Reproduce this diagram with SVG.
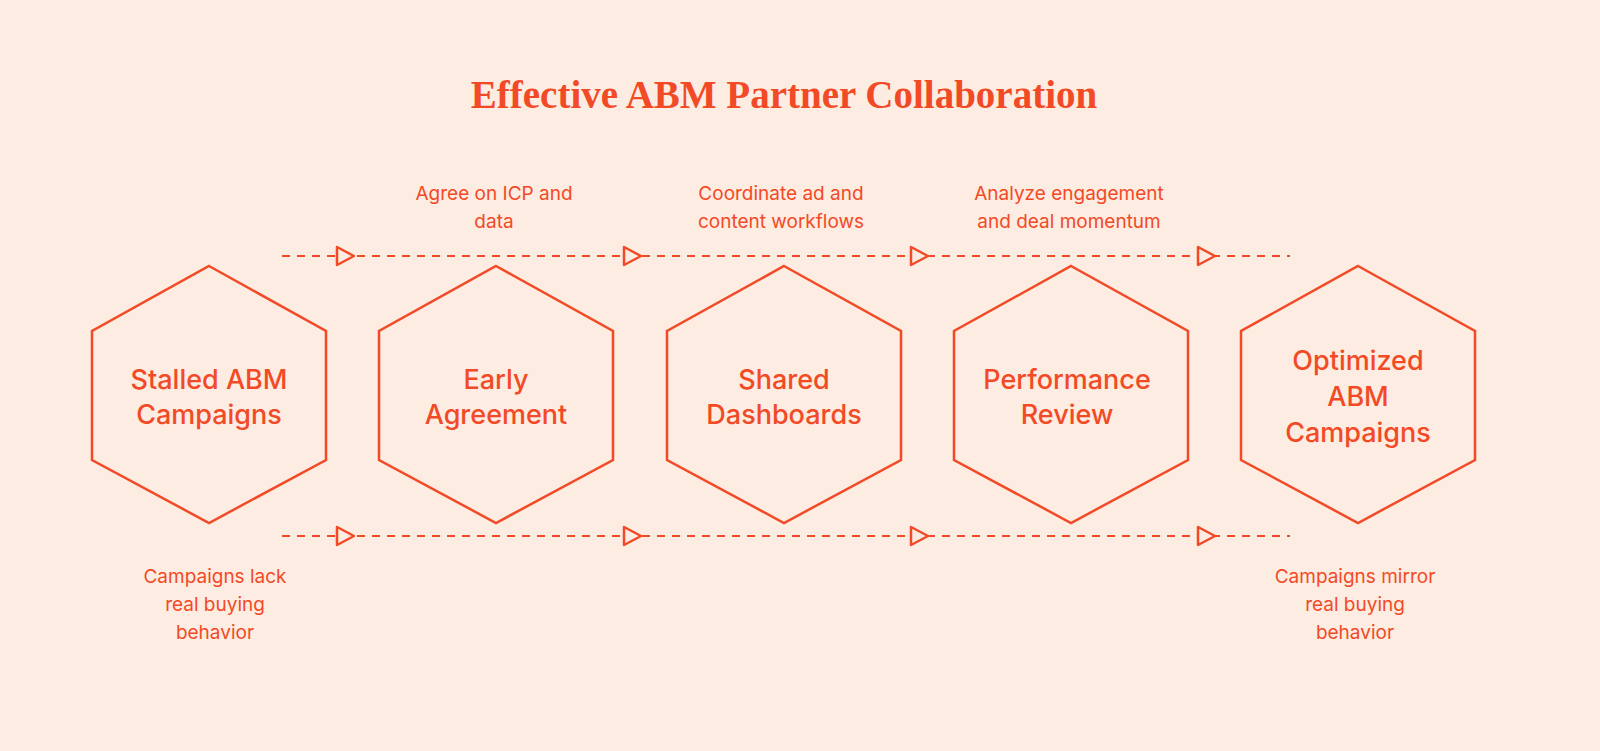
<svg xmlns="http://www.w3.org/2000/svg" width="1600" height="751" viewBox="0 0 1600 751">
<defs>
<style>
.hex{fill:none;stroke:#f24a26;stroke-width:2.5}
.n{font-family:Inter,"Liberation Sans",sans-serif;font-size:27px;font-weight:500;fill:#f24a26;text-anchor:middle}
.s{font-family:Inter,"Liberation Sans",sans-serif;font-size:19px;fill:#f24a26;text-anchor:middle}
.d{stroke:#f24a26;stroke-width:2;stroke-dasharray:8 7;fill:none}
.a{fill:#fdece1;stroke:#f24a26;stroke-width:2.5;stroke-linejoin:round}
</style>
<polygon id="hx" class="hex" points="0,-129 117,-64 117,65 0,128 -117,65 -117,-64"/>
</defs>
<rect width="1600" height="751" fill="#fdece1"/>
<text x="784" y="108" font-family="'Liberation Serif',serif" font-weight="bold" font-size="39" fill="#f24a26" text-anchor="middle">Effective ABM Partner Collaboration</text>
<g id="connectors">
<line class="d" x1="282" y1="256" x2="1290" y2="256"/>
<line class="d" x1="282" y1="536" x2="1290" y2="536"/>
<path class="a" d="M337,247 L354,256 L337,265 Z M624,247 L641,256 L624,265 Z M911,247 L928,256 L911,265 Z M1198,247 L1215,256 L1198,265 Z"/>
<path class="a" d="M337,527 L354,536 L337,545 Z M624,527 L641,536 L624,545 Z M911,527 L928,536 L911,545 Z M1198,527 L1215,536 L1198,545 Z"/>
</g>
<g id="n1"><use href="#hx" x="209" y="395"/><text class="n" x="209" y="389">Stalled ABM</text><text class="n" x="209" y="424">Campaigns</text></g>
<g id="n2"><use href="#hx" x="496" y="395"/><text class="n" x="496" y="389">Early</text><text class="n" x="496" y="424">Agreement</text></g>
<g id="n3"><use href="#hx" x="784" y="395"/><text class="n" x="784" y="389">Shared</text><text class="n" x="784" y="424">Dashboards</text></g>
<g id="n4"><use href="#hx" x="1071" y="395"/><text class="n" x="1067" y="389">Performance</text><text class="n" x="1067" y="424">Review</text></g>
<g id="n5"><use href="#hx" x="1358" y="395"/><text class="n" x="1358" y="370">Optimized</text><text class="n" x="1358" y="406">ABM</text><text class="n" x="1358" y="442">Campaigns</text></g>
<g id="labels">
<text class="s" x="494" y="200">Agree on ICP and</text><text class="s" x="494" y="228">data</text>
<text class="s" x="781" y="200">Coordinate ad and</text><text class="s" x="781" y="228">content workflows</text>
<text class="s" x="1069" y="200">Analyze engagement</text><text class="s" x="1069" y="228">and deal momentum</text>
<text class="s" x="215" y="583">Campaigns lack</text><text class="s" x="215" y="611">real buying</text><text class="s" x="215" y="639">behavior</text>
<text class="s" x="1355" y="583">Campaigns mirror</text><text class="s" x="1355" y="611">real buying</text><text class="s" x="1355" y="639">behavior</text>
</g>
</svg>
